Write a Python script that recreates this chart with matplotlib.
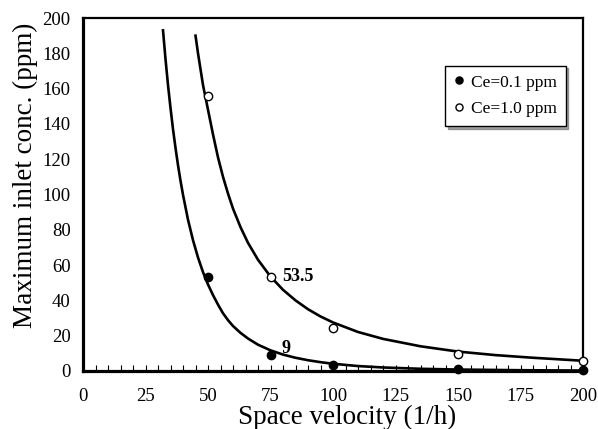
import numpy as np
import matplotlib
matplotlib.use('Agg')
import matplotlib.pyplot as plt
from matplotlib.ticker import MultipleLocator

plt.rcParams['font.family'] = ['Liberation Serif', 'DejaVu Serif']

# measured points
sv = [50, 75, 100, 150, 200]
ce01 = [53, 9, 3.2, 1.0, 0.8]
ce10 = [156, 53.5, 24.3, 9.6, 5.8]

# fitted curves
fit10_x = [45, 46, 47, 48, 49, 50, 52, 54, 56, 58, 60, 63, 66, 70, 75, 80, 85, 90,
           95, 100, 110, 120, 135, 150, 165, 180, 200]
fit10_y = [190, 180, 171, 162, 155, 148, 134, 121, 110, 100.5, 92, 81.5, 72.6, 63,
           53.5, 46, 40, 35, 30.9, 27.5, 22.1, 18.2, 14, 11, 9, 7.5, 5.8]
fit01_x = [32, 33, 34, 35, 36, 37, 38, 39, 40, 42, 44, 46, 48, 50, 52, 54, 56, 58,
           60, 63, 66, 70, 75, 80, 85, 90, 95, 100, 110, 120, 135, 150, 175, 200]
fit01_y = [193, 176.7, 162, 149, 137, 126.4, 116.6, 107.8, 99.8, 85.7, 74.1, 64.3,
           56, 49, 43, 37.6, 32.7, 28.8, 25.5, 21.6, 18.4, 14.9, 11.7, 9.3, 7.5,
           6.1, 5.0, 4.1, 2.8, 2.0, 1.25, 0.82, 0.44, 0.25]

fig = plt.figure(figsize=(5.98, 4.29), dpi=100)
ax = fig.add_axes([0.1388, 0.1352, 0.975 - 0.1388, 0.958 - 0.1352])

ax.plot(fit10_x, fit10_y, color='black', lw=1.9, zorder=2)
ax.plot(fit01_x, fit01_y, color='black', lw=1.9, zorder=2)
ax.plot(sv, ce01, 'o', color='black', ms=6, label='Ce=0.1 ppm', zorder=4, clip_on=False)
ax.plot(sv, ce10, 'o', mfc='white', mec='black', mew=1.0, ms=6, label='Ce=1.0 ppm',
        zorder=4, clip_on=False)

ax.text(79.5, 53.5, '53.5', fontsize=13, fontweight='bold', va='center', ha='left')
ax.text(79.5, 13, '9', fontsize=13, fontweight='bold', va='center', ha='left')

ax.set_xlim(0, 200)
ax.set_ylim(0, 200)
ax.xaxis.set_major_locator(MultipleLocator(25))
ax.xaxis.set_minor_locator(MultipleLocator(5))
ax.yaxis.set_major_locator(MultipleLocator(20))
ax.tick_params(axis='x', which='both', direction='in', length=4, width=0.8, pad=12,
               labelsize=13.5)
ax.tick_params(axis='y', which='both', length=0, pad=9, labelsize=13.5)

for side in ['left', 'bottom']:
    ax.spines[side].set_linewidth(2.3)
for side in ['top', 'right']:
    ax.spines[side].set_linewidth(1.6)

ax.set_ylabel('Maximum inlet conc. (ppm)', fontsize=19.5)
ax.yaxis.set_label_coords(-0.09, 0.555)
fig.text(0.58, 0.012, 'Space velocity (1/h)', fontsize=19.5, ha='center', va='baseline')

leg = ax.legend(loc='upper right', bbox_to_anchor=(0.965, 0.865), fontsize=12.5,
                frameon=True, fancybox=False, shadow=True, handlelength=0.6,
                handletextpad=0.4, borderpad=0.5, labelspacing=0.6, markerscale=0.85,
                borderaxespad=0)
leg.get_frame().set_edgecolor('black')
leg.get_frame().set_linewidth(1.0)

fig.savefig('out.png', dpi=100)
